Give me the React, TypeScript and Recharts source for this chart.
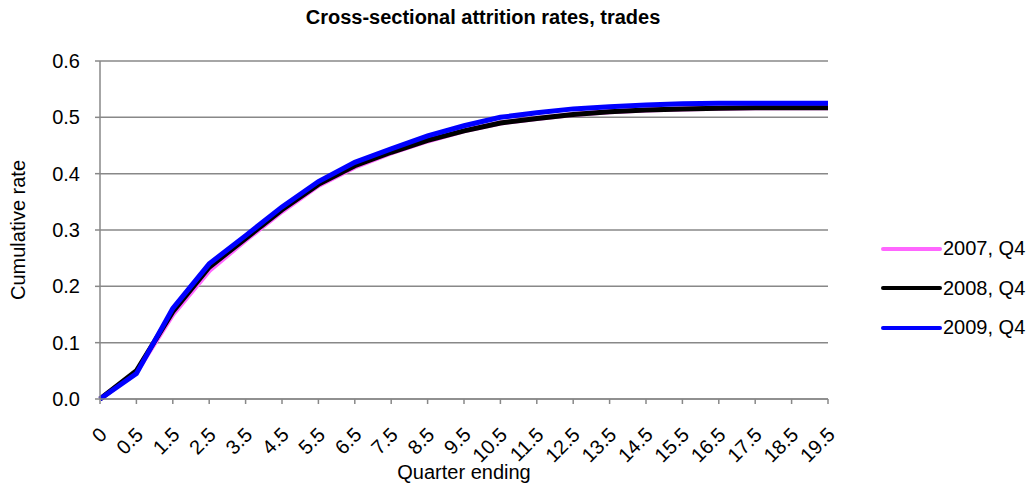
import React from "react";
import { LineChart, Line, XAxis, YAxis, CartesianGrid, Legend } from "recharts";

const quarters = ["0", "0.5", "1.5", "2.5", "3.5", "4.5", "5.5", "6.5", "7.5", "8.5", "9.5", "10.5", "11.5", "12.5", "13.5", "14.5", "15.5", "16.5", "17.5", "18.5", "19.5"];
const s2007 = [0, 0.048, 0.15, 0.228, 0.282, 0.333, 0.379, 0.412, 0.437, 0.458, 0.476, 0.49, 0.498, 0.505, 0.51, 0.513, 0.515, 0.516, 0.517, 0.517, 0.517];
const s2008 = [0, 0.05, 0.155, 0.234, 0.285, 0.336, 0.381, 0.414, 0.438, 0.459, 0.476, 0.49, 0.498, 0.505, 0.51, 0.513, 0.515, 0.516, 0.517, 0.517, 0.517];
const s2009 = [0, 0.045, 0.161, 0.24, 0.29, 0.341, 0.386, 0.42, 0.444, 0.467, 0.485, 0.5, 0.508, 0.515, 0.519, 0.522, 0.524, 0.525, 0.525, 0.525, 0.525];
const yTicks = [0, 0.1, 0.2, 0.3, 0.4, 0.5, 0.6];
const seriesNames = ["2007, Q4", "2008, Q4", "2009, Q4"];
const seriesColors = ["#ff66ff", "#000000", "#0000ff"];

const data = quarters.map((q, i) => ({ q, a: s2007[i], b: s2008[i], c: s2009[i] }));

const FONT = "'Liberation Sans', Arial, sans-serif";
const FS = 20;

const XTick = (props: any) => {
  const { x, y, payload } = props;
  const px = x + 8;
  const py = y + 30;
  return (
    <text x={px} y={py} textAnchor="end" fontSize={FS} fontFamily={FONT} fill="#000" transform={`rotate(-45 ${px} ${py})`}>
      {payload.value}
    </text>
  );
};

export default function App() {
  return (
    <div style={{ position: "absolute", left: 0, top: 0, width: 1032, height: 504, background: "#fff", fontFamily: FONT }}>
      <div style={{ position: "absolute", left: 0, top: 6, width: 966, textAlign: "center", fontWeight: "bold", fontSize: FS, lineHeight: "23px" }}>
        Cross-sectional attrition rates, trades
      </div>
      <LineChart width={1032} height={504} data={data} margin={{ top: 61, right: 204, bottom: 25, left: 60 }}>
        <CartesianGrid vertical={false} stroke="#888" strokeWidth={1.5} />
        <XAxis
          dataKey="q"
          interval={0}
          height={80}
          tick={<XTick />}
          tickSize={5}
          stroke="#888"
          strokeWidth={1.5}
          padding={{ left: 0, right: 0 }}
          label={{ value: "Quarter ending", position: "insideBottom", offset: 0, fill: "#000", fontSize: FS, fontFamily: FONT }}
        />
        <YAxis
          width={40}
          domain={[0, 0.6]}
          ticks={yTicks}
          tickFormatter={(v: number) => v.toFixed(1)}
          tickSize={5}
          tickMargin={15}
          stroke="#888"
          strokeWidth={1.5}
          tick={{ fill: "#000", fontSize: FS, fontFamily: FONT }}
          label={{ value: "Cumulative rate", angle: -90, position: "insideLeft", offset: -42, style: { textAnchor: "middle" }, fill: "#000", fontSize: FS, fontFamily: FONT }}
        />
        <Line dataKey="a" name={seriesNames[0]} stroke={seriesColors[0]} strokeWidth={5} dot={false} isAnimationActive={false} />
        <Line dataKey="b" name={seriesNames[1]} stroke={seriesColors[1]} strokeWidth={5} dot={false} isAnimationActive={false} />
        <Line dataKey="c" name={seriesNames[2]} stroke={seriesColors[2]} strokeWidth={5} dot={false} isAnimationActive={false} />
        <Legend
          layout="vertical"
          verticalAlign="top"
          align="right"
          content={() => (
            <div style={{ position: "absolute", left: 881, top: 229 }}>
              {seriesNames.map((n, i) => (
                <div key={n} style={{ display: "flex", alignItems: "center", height: 39.5, fontSize: FS, fontFamily: FONT, whiteSpace: "nowrap" }}>
                  <svg width={62} height={6}><line x1={2} y1={3} x2={59} y2={3} stroke={seriesColors[i]} strokeWidth={4} strokeLinecap="round" /></svg>
                  <span>{n}</span>
                </div>
              ))}
            </div>
          )}
          wrapperStyle={{ left: 0, top: 0, width: 0, height: 0 }}
        />
      </LineChart>
    </div>
  );
}
